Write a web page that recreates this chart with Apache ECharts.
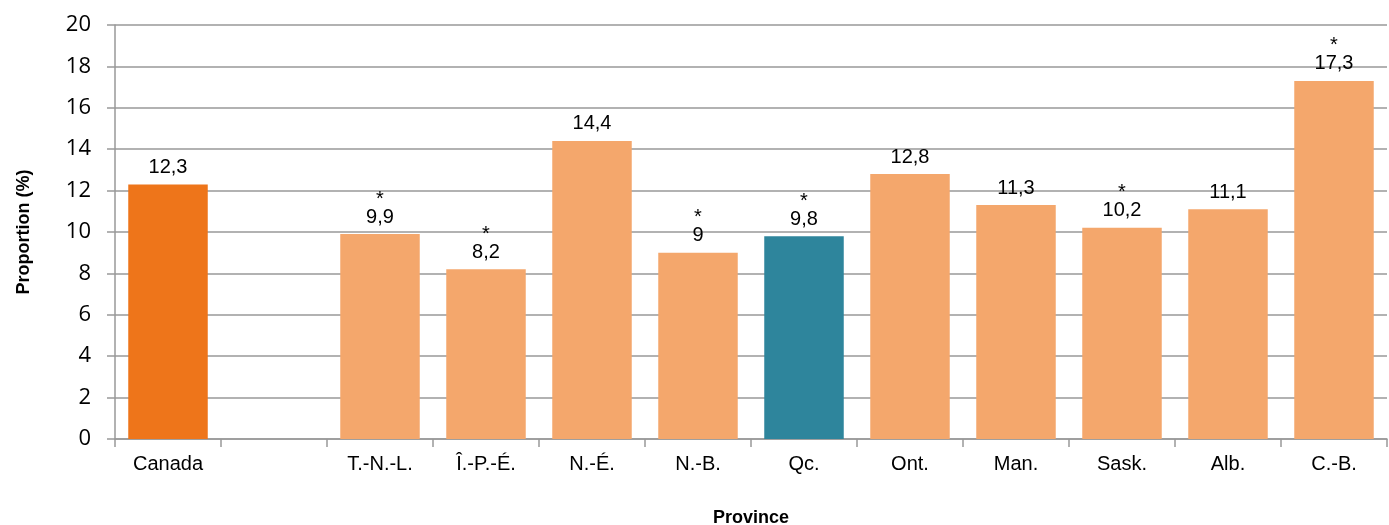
<!DOCTYPE html>
<html>
<head>
<meta charset="utf-8">
<script src="https://cdn.jsdelivr.net/npm/echarts@6/dist/echarts.min.js"></script>
<style>
html,body{margin:0;padding:0;background:#fff;}
#chart{width:1389px;height:525px;}
</style>
</head>
<body>
<div id="chart"></div>
<script>
const categories = ['Canada', '', 'T.-N.-L.', 'Î.-P.-É.', 'N.-É.', 'N.-B.', 'Qc.', 'Ont.', 'Man.', 'Sask.', 'Alb.', 'C.-B.'];
const values = [12.3, null, 9.9, 8.2, 14.4, 9.0, 9.8, 12.8, 11.3, 10.2, 11.1, 17.3];
const flagged = [false, false, true, true, false, true, true, false, false, true, false, true];
const yTicks = [0, 2, 4, 6, 8, 10, 12, 14, 16, 18, 20];

const FONT = 'Liberation Sans, Arial, sans-serif';
function barColor(cat) {
  if (cat === 'Canada') return '#EE751A';
  if (cat === 'Qc.') return '#2E859C';
  return '#F4A76C';
}
function fmt(v) { return String(v).replace('.', ','); }

const data = categories.map((c, i) => ({
  value: values[i],
  itemStyle: { color: barColor(c) },
  label: {
    formatter: values[i] == null ? '' : (flagged[i] ? '{s|*}\n{v|' + fmt(values[i]) + '}' : '{v|' + fmt(values[i]) + '}')
  }
}));

const chart = echarts.init(document.getElementById('chart'), null, { renderer: 'canvas' });
chart.setOption({
  animation: false,
  grid: { left: 115, right: 2, top: 25, bottom: 86, containLabel: false, outerBoundsMode: 'none' },
  xAxis: {
    type: 'category',
    data: categories,
    name: 'Province',
    nameLocation: 'middle',
    nameGap: 70,
    nameTextStyle: { fontFamily: FONT, fontWeight: 'bold', fontSize: 18, color: '#000' },
    axisLine: { lineStyle: { color: '#999', width: 1.5 } },
    axisTick: { show: true, length: 8, lineStyle: { color: '#999', width: 1.5 } },
    axisLabel: { fontFamily: FONT, fontSize: 20, color: '#000', margin: 15, interval: 0 }
  },
  yAxis: {
    type: 'value',
    min: 0, max: 20, interval: 2,
    name: 'Proportion (%)',
    nameLocation: 'middle',
    nameGap: 82,
    nameTextStyle: { fontFamily: FONT, fontWeight: 'bold', fontSize: 18, color: '#000' },
    axisLine: { show: true, lineStyle: { color: '#999', width: 1.5 } },
    axisTick: { show: true, length: 8, lineStyle: { color: '#999', width: 1.5 } },
    splitLine: { show: true, lineStyle: { color: '#999', width: 1.5 } },
    axisLabel: {
      fontFamily: 'Open Sans, sans-serif', fontSize: 22, color: '#000', margin: 24,
      formatter: v => yTicks.includes(v) ? String(v) : ''
    }
  },
  series: [{
    type: 'bar',
    data: data,
    barCategoryGap: '25%',
    label: {
      show: true,
      position: 'top',
      distance: 6,
      rich: {
        s: { fontFamily: FONT, fontSize: 20, color: '#000', lineHeight: 14, align: 'center' },
        v: { fontFamily: FONT, fontSize: 20, color: '#000', lineHeight: 22, align: 'center' }
      }
    }
  }]
});
</script>
</body>
</html>
